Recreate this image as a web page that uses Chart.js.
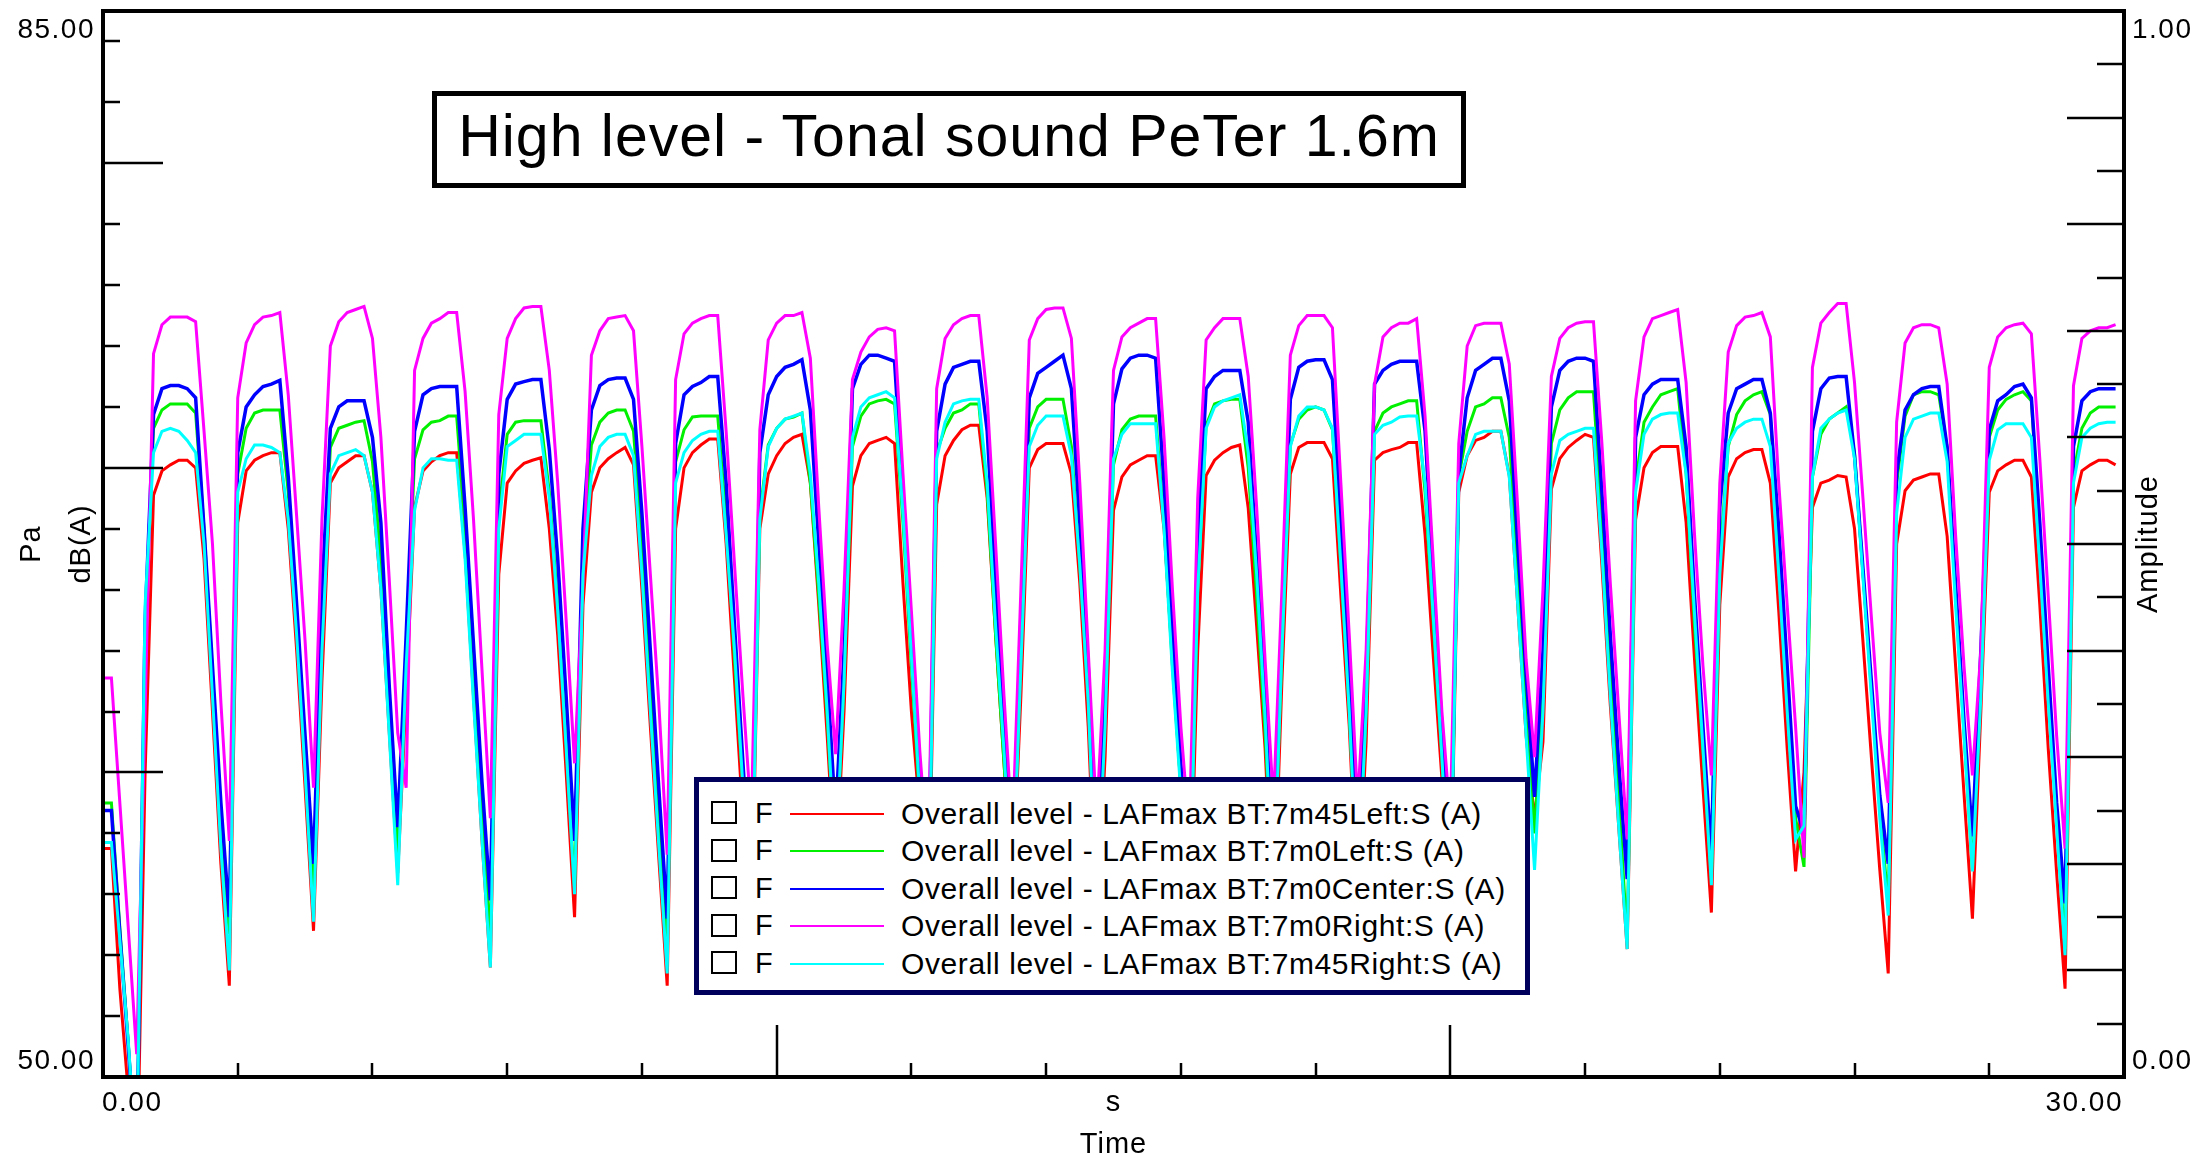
<!DOCTYPE html>
<html>
<head>
<meta charset="utf-8">
<title>High level - Tonal sound PeTer 1.6m</title>
<script src="https://cdn.jsdelivr.net/npm/chart.js@4.4.1/dist/chart.umd.min.js"></script>
<style>
  html, body { margin: 0; padding: 0; background: #fff; }
  #wrap { position: relative; width: 2196px; height: 1156px; overflow: hidden; background: #fff;
          font-family: "Liberation Sans", Arial, sans-serif; color: #000; }
  #chart { position: absolute; left: 0; top: 0; }
  #title { position: absolute; left: 432px; top: 91px; width: 1034px; height: 97px; box-sizing: border-box;
           border: 5px solid #000; background: #fff; font-size: 59px; line-height: 81px;
           letter-spacing: 1px; text-align: center; white-space: nowrap; }
  #legend { position: absolute; left: 694px; top: 777px; width: 836px; height: 218px; box-sizing: border-box;
            border: 5px solid #00005c; background: #fff; }
  #legend .box { position: absolute; left: 12px; width: 26px; height: 23px; box-sizing: border-box; border: 2px solid #000; }
  #legend .flag { position: absolute; left: 56px; font-size: 29px; line-height: 29px; }
  #legend .sample { position: absolute; left: 91px; width: 94px; height: 2px; }
  #legend .name { position: absolute; left: 202px; font-size: 30px; line-height: 30px; letter-spacing: 0.6px; white-space: nowrap; }
</style>
</head>
<body>
<div id="wrap">
  <canvas id="chart" width="2196" height="1156"></canvas>
  <div id="title">High level - Tonal sound PeTer 1.6m</div>
  <div id="legend"></div>
</div>
<script>
// Overall level LAFmax for five microphones, one value every 0.125 s (dB(A))
const sampleStep = 0.125;

const seriesNames = [
  'Overall level - LAFmax BT:7m45Left:S (A)',
  'Overall level - LAFmax BT:7m0Left:S (A)',
  'Overall level - LAFmax BT:7m0Center:S (A)',
  'Overall level - LAFmax BT:7m0Right:S (A)',
  'Overall level - LAFmax BT:7m45Right:S (A)'
];
const seriesColors = ['#ff0000', '#00f000', '#0000ff', '#ff00ff', '#00ffff'];

const red = [
  57.5, 57.5, 52.9, 49.5, 46,
  60, 69.1, 69.9, 70.1, 70.25, 70.25, 70.0, 67, 62, 57,
  53.0, 68.2, 69.9, 70.25, 70.4, 70.5, 70.5, 68, 64, 59.5,
  54.8, 63, 69.5, 70.0, 70.2, 70.4, 70.4, 69.2, 66, 61.3,
  56.7, 62.5, 68.7, 69.9, 70.2, 70.4, 70.5, 70.5, 67.2, 62.5, 57.8,
  53.6, 66.5, 69.5, 69.9, 70.15, 70.25, 70.33, 68, 64.5, 60,
  55.25, 65.5, 69.2, 70.0, 70.3, 70.5, 70.67, 70.1, 66, 61.5, 57.2,
  53.0, 68.0, 70.0, 70.5, 70.75, 70.95, 70.95, 67.5, 63, 58.5,
  54.5, 68, 69.8, 70.4, 70.8, 71.0, 71.1, 69.5, 65.5, 61.2,
  56.5, 62, 69.4, 70.4, 70.8, 70.9, 71.0, 70.8, 66.2, 62, 58.7,
  54.5, 68.8, 70.4, 70.9, 71.25, 71.4, 71.4, 69.0, 64.5, 60.3,
  56, 62.5, 70.0, 70.6, 70.8, 70.8, 70.8, 69.8, 66.2, 61.5,
  55, 60.5, 68.6, 69.7, 70.1, 70.25, 70.4, 70.4, 68, 63.7, 59.5,
  54.5, 64, 69.75, 70.25, 70.5, 70.67, 70.75, 68.67, 64.8, 60.8,
  55, 63, 69.8, 70.67, 70.83, 70.83, 70.83, 70.3, 65.8, 61.5,
  55.5, 61, 70.25, 70.5, 70.6, 70.67, 70.83, 70.83, 67.8, 63.7, 59.8,
  55, 69.2, 70.4, 70.9, 71.0, 71.2, 71.2, 69.75, 65.5, 61.2,
  58.5, 61, 69.3, 70.3, 70.67, 70.9, 71.1, 71.0, 66.8, 62.2, 58.2,
  54.2, 68.3, 70.0, 70.5, 70.7, 70.7, 70.7, 68.2, 63.7, 59.5,
  55.4, 65.5, 69.7, 70.3, 70.5, 70.6, 70.6, 69.5, 65.3, 60.8,
  56.75, 60, 68.7, 69.5, 69.6, 69.75, 69.7, 68, 64.3, 60.5, 56.8,
  53.4, 67.5, 69.25, 69.6, 69.7, 69.8, 69.8, 67.75, 63.5, 59.3,
  55.2, 62, 69.2, 69.9, 70.1, 70.25, 70.25, 69.7, 65.5, 60.8, 56.7,
  52.9, 68.7, 69.9, 70.1, 70.25, 70.25, 70.1
];

const green = [
  59.0, 59.0, 54.9, 51.1, 47,
  64.5, 71.3, 71.9, 72.1, 72.1, 72.1, 71.8, 68, 63.2, 58.6,
  54.7, 69.8, 71.3, 71.8, 71.9, 71.9, 71.9, 69.2, 65, 60.5,
  56, 65, 70.67, 71.3, 71.4, 71.5, 71.55, 70.2, 67, 62,
  57.2, 64, 70.3, 71.25, 71.5, 71.55, 71.7, 71.7, 68, 63.2, 58.7,
  54.5, 68.5, 71.1, 71.5, 71.55, 71.55, 71.55, 69.2, 65.5, 61,
  56.2, 67, 70.75, 71.5, 71.8, 71.9, 71.9, 71.2, 67.5, 63, 58.5,
  54.2, 70.2, 71.25, 71.67, 71.7, 71.7, 71.7, 68.3, 63.7, 59.5,
  55.5, 68.5, 70.75, 71.3, 71.6, 71.67, 71.8, 69.5, 65.8, 61.8,
  57, 63, 70.7, 71.7, 72.1, 72.2, 72.25, 72.1, 68.2, 63.5, 59,
  55, 70.5, 71.3, 71.8, 71.9, 72.1, 72.1, 69.2, 64.5, 60.3,
  56, 64, 71.3, 72.0, 72.25, 72.25, 72.25, 70.7, 66.8, 62.5,
  56, 62, 70.1, 71.25, 71.6, 71.7, 71.7, 71.7, 68.2, 63.5, 59.5,
  55.5, 66, 71.4, 72.1, 72.2, 72.25, 72.25, 70, 65.8, 61.3,
  56, 64, 70.75, 71.6, 71.9, 72.0, 71.9, 71.25, 66.8, 62,
  56, 62, 71.2, 71.8, 72.0, 72.1, 72.2, 72.2, 69.2, 64.8, 60.5,
  55.5, 69.7, 71.2, 72.0, 72.1, 72.3, 72.3, 71.0, 66.5, 61.8,
  58, 63, 70.8, 71.9, 72.3, 72.5, 72.5, 72.5, 68.2, 63.5, 59.2,
  54.5, 69.5, 71.5, 72.0, 72.4, 72.5, 72.6, 69.8, 64.8, 60.7,
  56.5, 67, 70.7, 71.75, 72.2, 72.4, 72.5, 71.75, 67.2, 62.8,
  58.5, 56.9, 69.7, 71.1, 71.6, 71.8, 72.0, 70.5, 66.5, 62.7, 58.8,
  55.7, 69.5, 71.7, 72.4, 72.5, 72.5, 72.4, 70.67, 65.8, 61.3,
  56.8, 63, 71.0, 71.9, 72.25, 72.4, 72.5, 72.2, 67.8, 63.2, 58.7,
  54.2, 69.8, 71.3, 71.8, 72.0, 72.0, 72.0
];

const blue = [
  58.75, 58.75, 54.7, 51.0, 47,
  65, 71.75, 72.6, 72.7, 72.7, 72.6, 72.3, 68, 63.5, 59,
  55.25, 70.5, 72.0, 72.4, 72.67, 72.75, 72.87, 69.7, 65.5, 61.2,
  57.0, 66, 71.3, 72.0, 72.2, 72.2, 72.2, 71.0, 68.2, 62.8,
  58.2, 64.5, 71.2, 72.4, 72.6, 72.67, 72.67, 72.67, 68.7, 64.2, 59.7,
  55.8, 69.8, 72.25, 72.75, 72.83, 72.9, 72.9, 70.6, 67, 62.5,
  57.75, 68, 71.9, 72.7, 72.9, 72.95, 72.95, 72.25, 68.5, 64, 59.5,
  55.2, 70.8, 72.4, 72.67, 72.8, 73.0, 73.0, 69.5, 64.8, 60.3,
  56, 70.5, 72.4, 73.0, 73.3, 73.4, 73.55, 71.9, 67.5, 63.2,
  58.5, 64, 72.6, 73.4, 73.7, 73.7, 73.6, 73.5, 69, 64.2, 59.8,
  56, 71.2, 72.75, 73.3, 73.4, 73.5, 73.5, 71.2, 66.2, 61.5,
  57, 65, 72.3, 73.1, 73.3, 73.5, 73.7, 72.6, 68.2, 63.5,
  57, 63, 72.1, 73.25, 73.6, 73.7, 73.7, 73.6, 69.5, 64.8, 60.3,
  56.5, 67.5, 72.6, 73.0, 73.2, 73.2, 73.2, 71.5, 67, 62.3,
  57, 65, 72.25, 73.3, 73.5, 73.55, 73.55, 72.9, 68.2, 63.3,
  57.5, 63, 72.75, 73.2, 73.4, 73.5, 73.5, 73.5, 71.2, 66.2, 61.5,
  56.5, 69.8, 72.3, 73.2, 73.4, 73.6, 73.6, 72.2, 67.5, 63.2,
  59.2, 64, 72.0, 73.2, 73.5, 73.6, 73.6, 73.5, 69.2, 64.5, 60.3,
  56.5, 71.0, 72.4, 72.75, 72.9, 72.9, 72.9, 70.7, 65.8, 61.5,
  57.3, 68.7, 71.8, 72.6, 72.75, 72.9, 72.9, 71.8, 68, 63.5,
  58.9, 58, 71.2, 72.6, 72.95, 73.0, 73.0, 70.4, 66.7, 63, 59.25,
  57.0, 69.8, 71.9, 72.4, 72.6, 72.67, 72.67, 70.67, 66.2, 61.7,
  57.9, 64, 71.25, 72.2, 72.4, 72.67, 72.75, 72.3, 68.2, 63.5, 59,
  55.7, 70.7, 72.2, 72.5, 72.6, 72.6, 72.6
];

const magenta = [
  63.1, 63.1, 59, 54.9, 50.75,
  62, 73.75, 74.7, 74.95, 74.95, 74.95, 74.8, 71.2, 67.5, 62.3,
  57.75, 72.3, 74.1, 74.7, 74.95, 75.0, 75.1, 72.4, 68.4, 64.3,
  59.5, 68.3, 74.0, 74.8, 75.1, 75.2, 75.3, 74.25, 71, 66.3,
  61.3, 59.5, 73.2, 74.25, 74.75, 74.9, 75.1, 75.1, 72.5, 68.3, 63.4,
  58.5, 71.75, 74.25, 74.9, 75.25, 75.3, 75.3, 73.2, 69.5, 65,
  60.3, 66.3, 73.7, 74.5, 74.9, 74.95, 75.0, 74.5, 70.7, 66.5, 62.3,
  57.3, 72.9, 74.4, 74.75, 74.9, 75.0, 75.0, 71.2, 66.8, 62.5,
  58.5, 71.25, 74.2, 74.75, 75.0, 75.0, 75.1, 73.6, 68.7, 64.2,
  60.6, 66, 72.9, 73.8, 74.3, 74.55, 74.6, 74.5, 69.8, 65.3, 60.7,
  57, 72.6, 74.25, 74.7, 74.9, 75.0, 75.0, 72.3, 67.5, 62.5,
  58, 66, 74.2, 74.9, 75.2, 75.25, 75.25, 74.25, 69.5, 64,
  58.5, 64, 73.2, 74.3, 74.6, 74.75, 74.9, 74.9, 71, 66, 61.5,
  58, 69, 74.2, 74.6, 74.9, 74.9, 74.9, 73.0, 68.7, 63.7,
  59, 66, 73.7, 74.67, 75.0, 75.0, 75.0, 74.6, 69.5, 64.5,
  59, 64, 72.75, 74.3, 74.6, 74.75, 74.75, 74.9, 71.7, 66.8, 62,
  58.5, 70.8, 74.0, 74.67, 74.75, 74.75, 74.75, 73.4, 68.7, 63.7,
  60.5, 66, 73.0, 74.25, 74.6, 74.75, 74.8, 74.8, 70.8, 66.2, 62,
  57.8, 72.2, 74.3, 74.9, 75.0, 75.1, 75.2, 72.8, 67.8, 63.5,
  59.9, 69.5, 73.8, 74.67, 74.95, 75.0, 75.1, 74.3, 69.5, 65.5,
  61.5, 57.2, 73.3, 74.75, 75.1, 75.4, 75.4, 72.8, 69, 65.1, 61.3,
  59.0, 71.5, 74.1, 74.6, 74.7, 74.7, 74.6, 72.75, 67.8, 63.5,
  59.9, 64, 73.3, 74.3, 74.6, 74.7, 74.75, 74.4, 70.3, 65.8, 61.2,
  57.5, 72.7, 74.25, 74.5, 74.6, 74.6, 74.7
];

const cyan = [
  57.7, 57.7, 54.5, 51.2, 47,
  65.5, 70.5, 71.2, 71.3, 71.2, 70.9, 70.5, 67.5, 62.5, 57.5,
  53.5, 69.2, 70.3, 70.75, 70.75, 70.67, 70.5, 68.3, 64.5, 60,
  55.1, 64, 69.8, 70.4, 70.5, 70.6, 70.4, 69.2, 66, 61.2,
  56.3, 63.5, 68.6, 70, 70.3, 70.3, 70.25, 70.25, 67, 62.3, 57.8,
  53.6, 68, 70.7, 70.9, 71.1, 71.1, 71.1, 69, 65.3, 60.8,
  56, 66.5, 69.75, 70.7, 71.0, 71.1, 71.1, 70.4, 66.5, 62, 57.6,
  53.4, 69.5, 70.5, 70.9, 71.1, 71.2, 71.2, 67.8, 64, 59.5,
  55, 68.3, 70.7, 71.3, 71.6, 71.7, 71.8, 69.8, 66.2, 62,
  57, 63, 71.0, 72.0, 72.3, 72.4, 72.5, 72.3, 68.5, 63.8, 59.2,
  55, 70.3, 71.5, 72.1, 72.2, 72.25, 72.25, 69.5, 64.8, 60.7,
  56, 63.5, 70.7, 71.4, 71.7, 71.7, 71.7, 70.4, 66.8, 62.3,
  55.5, 61.5, 70.3, 71.1, 71.45, 71.45, 71.45, 71.45, 68, 63.3, 59.3,
  55, 66, 71.3, 72.0, 72.2, 72.3, 72.4, 70.5, 66.5, 61.8,
  56, 64, 70.7, 71.7, 72.0, 72.0, 71.9, 71.3, 66.8, 62,
  56, 62, 71.1, 71.4, 71.5, 71.67, 71.7, 71.7, 69.5, 65, 60.5,
  55.5, 69.5, 70.4, 71.1, 71.2, 71.2, 71.2, 69.7, 65.5, 61.2,
  56.8, 62, 69.8, 70.9, 71.1, 71.2, 71.3, 71.3, 67.2, 62.5, 58.2,
  54.2, 69.2, 71.1, 71.6, 71.75, 71.8, 71.8, 69.8, 65.2, 60.8,
  56.3, 66.5, 70.8, 71.3, 71.5, 71.6, 71.6, 70.7, 66.5, 62,
  57.8, 58.25, 69.7, 71.3, 71.6, 71.8, 71.9, 70.3, 66.4, 62.5, 58.5,
  55.3, 68.5, 71.0, 71.6, 71.7, 71.8, 71.8, 70.2, 65.5, 61.2,
  56.75, 62.5, 70.25, 71.25, 71.45, 71.45, 71.45, 71.0, 66.8, 62.3, 58.2,
  54.0, 69.5, 71.0, 71.3, 71.45, 71.5, 71.5
];

// Axis ranges, tick positions and tick labels
const dbRange = [50, 85];
const ampRange = [0, 1];
const timeRange = [0, 30];
const dbTicks = [52, 54, 56, 58, 60, 62, 64, 66, 68, 70, 72, 74, 76, 78, 80, 82, 84];
const dbMajorTicks = [60, 70, 80];
const ampTicks = [0.05, 0.1, 0.15, 0.2, 0.25, 0.3, 0.35, 0.4, 0.45, 0.5, 0.55, 0.6, 0.65, 0.7, 0.75, 0.8, 0.85, 0.9, 0.95];
const ampMajorTicks = [0.1, 0.2, 0.3, 0.4, 0.5, 0.6, 0.7, 0.8, 0.9];
const timeTicks = [2, 4, 6, 8, 10, 12, 14, 16, 18, 20, 22, 24, 26, 28];
const timeMajorTicks = [10, 20];
const dbTickLabels = ['50.00', '85.00'];
const ampTickLabels = ['0.00', '1.00'];
const timeTickLabels = ['0.00', '30.00'];

const fontFamily = '"Liberation Sans", Arial, sans-serif';
const isMajor = (list, v) => list.some(m => Math.abs(m - v) < 1e-6);

// Frame, inward ticks and axis texts, drawn on top of the curves
const axisFrame = {
    id: 'axisFrame',
    afterDraw(chart) {
        const { ctx, chartArea: a, scales: { x, y, y2 } } = chart;
        const mid = (a.top + a.bottom) / 2;
        ctx.save();
        ctx.strokeStyle = '#000';
        ctx.lineWidth = 4;
        ctx.strokeRect(a.left, a.top, a.right - a.left, a.bottom - a.top);

        ctx.lineWidth = 2.5;
        ctx.beginPath();
        dbTicks.forEach(v => {
            const py = Math.round(y.getPixelForValue(v));
            ctx.moveTo(a.left, py);
            ctx.lineTo(a.left + (isMajor(dbMajorTicks, v) ? 60 : 17), py);
        });
        ampTicks.forEach(v => {
            const py = Math.round(y2.getPixelForValue(v));
            ctx.moveTo(a.right, py);
            ctx.lineTo(a.right - (isMajor(ampMajorTicks, v) ? 57 : 27), py);
        });
        timeTicks.forEach(v => {
            const px = Math.round(x.getPixelForValue(v));
            ctx.moveTo(px, a.bottom);
            ctx.lineTo(px, a.bottom - (isMajor(timeMajorTicks, v) ? 52 : 14));
        });
        ctx.stroke();

        ctx.fillStyle = '#000';
        ctx.textBaseline = 'alphabetic';
        ctx.font = '28px ' + fontFamily;
        ctx.letterSpacing = '1.5px';
        ctx.textAlign = 'right';
        ctx.fillText(dbTickLabels[1], a.left - 8, a.top + 27);
        ctx.fillText(dbTickLabels[0], a.left - 8, a.bottom - 8);
        ctx.textAlign = 'left';
        ctx.fillText(ampTickLabels[1], a.right + 8, a.top + 27);
        ctx.fillText(ampTickLabels[0], a.right + 8, a.bottom - 8);
        ctx.fillText(timeTickLabels[0], a.left - 1, a.bottom + 34);
        ctx.textAlign = 'right';
        ctx.fillText(timeTickLabels[1], a.right - 1, a.bottom + 34);

        ctx.font = '29px ' + fontFamily;
        ctx.letterSpacing = '1px';
        ctx.textAlign = 'center';
        const cx = x.getPixelForValue((timeRange[0] + timeRange[1]) / 2);
        ctx.fillText('s', cx, a.bottom + 34);
        ctx.fillText('Time', cx, a.bottom + 76);

        const rotated = (text, px) => {
            ctx.save();
            ctx.translate(px, mid);
            ctx.rotate(-Math.PI / 2);
            ctx.fillText(text, 0, 0);
            ctx.restore();
        };
        rotated('Pa', 40);
        rotated('dB(A)', 90);
        rotated('Amplitude', 2157);
        ctx.restore();
    }
};

const levels = [red, green, blue, magenta, cyan];
const datasets = levels.map((vals, i) => ({
    label: seriesNames[i],
    data: vals.map((v, n) => ({ x: n * sampleStep, y: v })),
    borderColor: seriesColors[i],
    borderWidth: i === 2 ? 3.5 : 3,
    pointRadius: 0,
    tension: 0,
    order: levels.length - i   // cyan ends up on top
}));

new Chart(document.getElementById('chart'), {
    type: 'line',
    data: { datasets },
    options: {
        responsive: false,
        animation: false,
        devicePixelRatio: 1,
        events: [],
        layout: { padding: { left: 103, top: 11, right: 72, bottom: 79 } },
        scales: {
            x: { type: 'linear', min: timeRange[0], max: timeRange[1], display: false },
            y: { type: 'linear', min: dbRange[0], max: dbRange[1], display: false },
            y2: { type: 'linear', position: 'right', min: ampRange[0], max: ampRange[1], display: false }
        },
        plugins: { legend: { display: false }, tooltip: { enabled: false } }
    },
    plugins: [axisFrame]
});

// Legend box with check boxes, as in the source software
const legendEl = document.getElementById('legend');
seriesNames.forEach((name, i) => {
    const c = 30.7 + i * 37.5;
    legendEl.insertAdjacentHTML('beforeend',
        `<div class="box" style="top:${c - 11.5}px"></div>` +
        `<span class="flag" style="top:${c - 13.9}px">F</span>` +
        `<div class="sample" style="top:${c}px;background:${seriesColors[i]}"></div>` +
        `<span class="name" style="top:${c - 13.8}px">${name}</span>`);
});
</script>
</body>
</html>
